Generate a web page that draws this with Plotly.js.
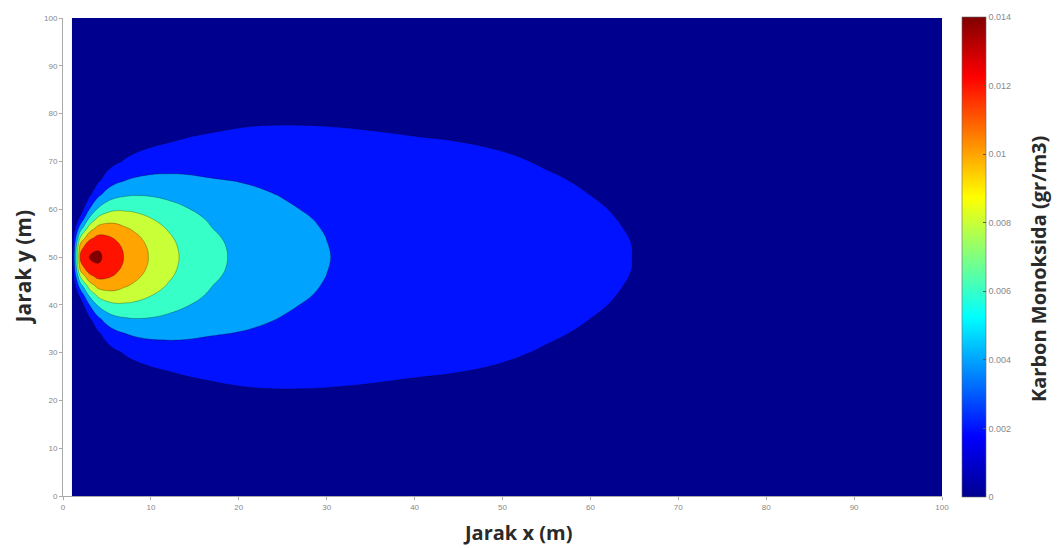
<!DOCTYPE html>
<html><head><meta charset="utf-8">
<script src="https://cdn.plot.ly/plotly-3.0.1.min.js"></script>
<style>html,body{margin:0;padding:0;background:#fff}#chart{width:1061px;height:548px}</style>
</head><body><div id="chart"></div>
<script>
// Grid positions (m) along the wind direction
const xDistance = [1, 2, 3, 4, 5, 6, 7, 8, 10, 12, 14, 17, 20, 22, 25, 27, 30, 35, 40, 45, 50, 55, 60, 63, 70, 85, 100];
// Crosswind offsets (m) from the plume centre line y = 50 (plume is symmetric)
const plumeCenterY = 50;
const yOffset = [0, 2, 4, 6, 8, 10, 13, 16, 20, 24, 28, 33, 40, 50];

// Carbon monoxide concentration (gr/m3), one row per crosswind offset
const conc_d0  = [0.0005, 0.0125, 0.0141, 0.0143, 0.0136, 0.0128, 0.0119, 0.0112, 0.0098, 0.0086, 0.0076, 0.0064, 0.0057, 0.0053, 0.00475, 0.00444, 0.00405, 0.0035, 0.0031, 0.00284, 0.0026, 0.00235, 0.00215, 0.00205, 0.00185, 0.0016, 0.0014];
const conc_d2  = [0.0004, 0.01132, 0.01341, 0.01384, 0.01327, 0.01255, 0.01170, 0.01103, 0.00968, 0.00851, 0.00753, 0.00636, 0.00567, 0.00527, 0.00473, 0.00442, 0.00403, 0.00349, 0.00309, 0.00283, 0.00259, 0.00235, 0.00215, 0.00205, 0.00185, 0.0016, 0.0014];
const conc_d4  = [0.0002, 0.00842, 0.01153, 0.01254, 0.01232, 0.01182, 0.01111, 0.01054, 0.00933, 0.00826, 0.00734, 0.00623, 0.00557, 0.00519, 0.00467, 0.00437, 0.00399, 0.00346, 0.00307, 0.00281, 0.00258, 0.00233, 0.00214, 0.00204, 0.00184, 0.00159, 0.00139];
const conc_d6  = [0.00007, 0.00514, 0.00896, 0.01064, 0.01089, 0.01069, 0.01020, 0.00977, 0.00878, 0.00785, 0.00703, 0.00601, 0.00541, 0.00506, 0.00456, 0.00428, 0.00391, 0.00340, 0.00302, 0.00278, 0.00255, 0.00231, 0.00212, 0.00202, 0.00183, 0.00158, 0.00139];
const conc_d8  = [0.00002, 0.00257, 0.00630, 0.00845, 0.00916, 0.00929, 0.00904, 0.00879, 0.00806, 0.00730, 0.00662, 0.00573, 0.00520, 0.00488, 0.00442, 0.00416, 0.00381, 0.00333, 0.00297, 0.00273, 0.00251, 0.00228, 0.00209, 0.001999, 0.00181, 0.00157, 0.00138];
const conc_d10 = [0, 0.00106, 0.00401, 0.00629, 0.00734, 0.00776, 0.00775, 0.00767, 0.00722, 0.00666, 0.00612, 0.00538, 0.00493, 0.00465, 0.00424, 0.00399, 0.00368, 0.00323, 0.00289, 0.00267, 0.00246, 0.00224, 0.00206, 0.00197, 0.00178, 0.00156, 0.00137];
const conc_d13 = [0, 0.00019, 0.00168, 0.00357, 0.00479, 0.00550, 0.00577, 0.00591, 0.00585, 0.00559, 0.00527, 0.00478, 0.00446, 0.00425, 0.00392, 0.00372, 0.00345, 0.00306, 0.00276, 0.00256, 0.00237, 0.00217, 0.001998, 0.00192, 0.00174, 0.00153, 0.00135];
const conc_d16 = [0, 0.00002, 0.00056, 0.00174, 0.00280, 0.00356, 0.00397, 0.00425, 0.00449, 0.00448, 0.00437, 0.00411, 0.00394, 0.00380, 0.00355, 0.00339, 0.00318, 0.00285, 0.00260, 0.00243, 0.00227, 0.00208, 0.00192, 0.00185, 0.00168, 0.00149, 0.00132];
const conc_d20 = [0, 0, 0.00009, 0.00053, 0.00115, 0.00173, 0.00214, 0.00247, 0.00289, 0.00310, 0.00320, 0.00320, 0.00320, 0.00315, 0.00302, 0.00292, 0.00277, 0.00254, 0.00236, 0.00223, 0.00210, 0.00194, 0.00181, 0.00174, 0.00160, 0.00143, 0.00127];
const conc_d24 = [0, 0, 0.00001, 0.00013, 0.00039, 0.00072, 0.00101, 0.00127, 0.00169, 0.00198, 0.00218, 0.00236, 0.00248, 0.00250, 0.00247, 0.00242, 0.00235, 0.00221, 0.00209, 0.00201, 0.00191, 0.00178, 0.00168, 0.00162, 0.00150, 0.00136, 0.00122];
const conc_d28 = [0, 0, 0, 0.00002, 0.00011, 0.00025, 0.00041, 0.00058, 0.00090, 0.00116, 0.00139, 0.00165, 0.00184, 0.00191, 0.00195, 0.00195, 0.00193, 0.00187, 0.00181, 0.00177, 0.00171, 0.00161, 0.00153, 0.00149, 0.00139, 0.00128, 0.00116];
const conc_d33 = [0, 0, 0, 0, 0.00002, 0.00006, 0.00011, 0.00018, 0.00035, 0.00053, 0.00072, 0.00097, 0.00118, 0.00128, 0.00138, 0.00141, 0.00145, 0.00146, 0.00147, 0.00147, 0.00145, 0.00139, 0.00134, 0.00132, 0.00124, 0.00118, 0.00108];
const conc_d40 = [0, 0, 0, 0, 0, 0, 0.00001, 0.00003, 0.00007, 0.00015, 0.00024, 0.00040, 0.00056, 0.00066, 0.00077, 0.00082, 0.00089, 0.00097, 0.00103, 0.00108, 0.00110, 0.00109, 0.00108, 0.00107, 0.00103, 0.00102, 0.00096];
const conc_d50 = [0, 0, 0, 0, 0, 0, 0, 0, 0, 0.00001, 0.00003, 0.00008, 0.00015, 0.00020, 0.00028, 0.00033, 0.00038, 0.00047, 0.00056, 0.00063, 0.00068, 0.00071, 0.00073, 0.00074, 0.00074, 0.00079, 0.00078];

const xTickVals = [0, 10, 20, 30, 40, 50, 60, 70, 80, 90, 100];
const yTickVals = [0, 10, 20, 30, 40, 50, 60, 70, 80, 90, 100];
const cbTickVals = [0, 0.002, 0.004, 0.006, 0.008, 0.010, 0.012, 0.014];
const cbTickText = ['0', '0.002', '0.004', '0.006', '0.008', '0.01', '0.012', '0.014'];

// table for the contour trace (mirror rows about the centre line)
const rowsByOffset = [conc_d0, conc_d2, conc_d4, conc_d6, conc_d8, conc_d10, conc_d13, conc_d16, conc_d20, conc_d24, conc_d28, conc_d33, conc_d40, conc_d50];
const yGrid = [], zGrid = [];
for (let k = yOffset.length - 1; k >= 1; k--) { yGrid.push(plumeCenterY - yOffset[k]); zGrid.push(rowsByOffset[k]); }
for (let k = 0; k < yOffset.length; k++) { yGrid.push(plumeCenterY + yOffset[k]); zGrid.push(rowsByOffset[k]); }

const jet = [[0, 'rgb(0,0,143)'], [0.125, 'rgb(0,0,255)'], [0.375, 'rgb(0,255,255)'], [0.625, 'rgb(255,255,0)'], [0.875, 'rgb(255,0,0)'], [1, 'rgb(128,0,0)']];

const contour = {
  type: 'contour', x: xDistance, y: yGrid, z: zGrid,
  colorscale: jet, autocontour: false,
  contours: {start: 0.002, end: 0.014, size: 0.002, coloring: 'fill'},
  line: {color: 'rgba(0,0,0,0.45)', width: 0.6, smoothing: 1.3},
  showscale: false, hoverinfo: 'skip'
};

const scaleHolder = {
  type: 'scatter', mode: 'markers', x: [50, 50], y: [50, 50], hoverinfo: 'skip', showlegend: false,
  marker: {
    size: 1, opacity: 0, color: [0, 0.014], cmin: 0, cmax: 0.014, colorscale: jet, showscale: true,
    colorbar: {
      x: 1.0228, xanchor: 'left', xpad: 0, y: 0.5, yanchor: 'middle', ypad: 0, len: 1.004, lenmode: 'fraction',
      thickness: 24, outlinewidth: 0.6, outlinecolor: '#666',
      tickmode: 'array', tickvals: cbTickVals, ticktext: cbTickText,
      ticks: 'inside', ticklen: 3, tickcolor: '#555',
      tickfont: {size: 9, color: '#888', family: 'Liberation Sans'}
    }
  }
};

const titleFont = {family: 'Open Sans', weight: 'bold', color: '#2a2a2a'};
const layout = {
  width: 1061, height: 548,
  margin: {l: 63, r: 119, t: 18, b: 52},
  paper_bgcolor: '#fff', plot_bgcolor: '#fff',
  showlegend: false,
  xaxis: {
    range: [0, 100], tickmode: 'array', tickvals: xTickVals, showgrid: false, zeroline: false,
    showline: true, linecolor: '#aaa', linewidth: 1, ticks: 'outside', ticklen: 3, tickcolor: '#aaa',
    tickfont: {size: 8, color: '#888', family: 'Liberation Sans'}
  },
  yaxis: {
    range: [0, 100], tickmode: 'array', tickvals: yTickVals, showgrid: false, zeroline: false,
    showline: true, linecolor: '#aaa', linewidth: 1, ticks: 'outside', ticklen: 3, tickcolor: '#aaa',
    tickfont: {size: 8, color: '#888', family: 'Liberation Sans'}
  },
  annotations: [
    {text: 'Jarak x (m)', xref: 'paper', yref: 'paper', x: 0.5165, y: -0.0774, xanchor: 'center', yanchor: 'middle',
     showarrow: false, font: Object.assign({size: 20}, titleFont)},
    {text: 'Jarak y (m)', xref: 'paper', yref: 'paper', x: -0.045, y: 0.479, xanchor: 'center', yanchor: 'middle',
     textangle: -90, showarrow: false, font: Object.assign({size: 21}, titleFont)},
    {text: 'Karbon Monoksida (gr/m3)', xref: 'paper', yref: 'paper', x: 1.1104, y: 0.475, xanchor: 'center', yanchor: 'middle',
     textangle: -90, showarrow: false, font: Object.assign({size: 20}, titleFont)}
  ]
};

Plotly.newPlot('chart', [contour, scaleHolder], layout, {displayModeBar: false, staticPlot: true});
</script></body></html>
